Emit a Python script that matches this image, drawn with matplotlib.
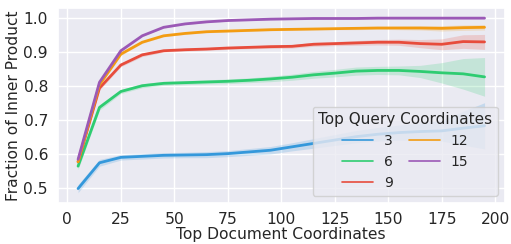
import numpy as np
import matplotlib
matplotlib.use("Agg")
import matplotlib.pyplot as plt
import seaborn as sns

sns.set_theme(style="darkgrid")
plt.rcParams["font.family"] = ["DejaVu Sans"]

# ── Data ─────────────────────────────────────────────────────
doc_coords = [5, 15, 25, 35, 45, 55, 65, 75, 85, 95,
              105, 115, 125, 135, 145, 155, 165, 175, 185, 195]

q3 = [0.497, 0.573, 0.589, 0.592, 0.595, 0.596, 0.597, 0.600, 0.605, 0.610,
      0.620, 0.630, 0.640, 0.650, 0.657, 0.662, 0.665, 0.667, 0.675, 0.682]
q6 = [0.563, 0.736, 0.783, 0.800, 0.807, 0.809, 0.811, 0.813, 0.816, 0.820,
      0.825, 0.832, 0.837, 0.843, 0.845, 0.845, 0.842, 0.838, 0.835, 0.826]
q9 = [0.576, 0.793, 0.861, 0.891, 0.903, 0.906, 0.908, 0.911, 0.913, 0.915,
      0.916, 0.922, 0.924, 0.926, 0.928, 0.928, 0.924, 0.922, 0.930, 0.929]
q12 = [0.576, 0.803, 0.893, 0.928, 0.947, 0.954, 0.959, 0.961, 0.963, 0.965,
       0.966, 0.967, 0.968, 0.969, 0.970, 0.970, 0.970, 0.969, 0.971, 0.972]
q15 = [0.583, 0.810, 0.903, 0.947, 0.972, 0.982, 0.988, 0.992, 0.994, 0.996,
       0.997, 0.998, 0.998, 0.998, 0.999, 0.999, 0.999, 0.999, 0.999, 0.999]

# half-width of the confidence band
ci3 = [0.012, 0.010, 0.008, 0.008, 0.008, 0.008, 0.009, 0.009, 0.010, 0.011,
       0.012, 0.014, 0.016, 0.018, 0.020, 0.022, 0.025, 0.030, 0.050, 0.068]
ci6 = [0.010, 0.008, 0.006, 0.006, 0.006, 0.006, 0.006, 0.007, 0.007, 0.008,
       0.009, 0.010, 0.011, 0.012, 0.012, 0.013, 0.018, 0.030, 0.045, 0.057]
ci9 = [0.008, 0.006, 0.005, 0.005, 0.004, 0.004, 0.004, 0.004, 0.004, 0.005,
       0.005, 0.006, 0.006, 0.007, 0.008, 0.009, 0.012, 0.016, 0.020, 0.022]
ci12 = [0.006, 0.005, 0.004, 0.003, 0.003, 0.003, 0.003, 0.003, 0.003, 0.003,
        0.003, 0.003, 0.003, 0.004, 0.004, 0.005, 0.006, 0.008, 0.008, 0.008]
ci15 = [0.006, 0.004, 0.003, 0.002, 0.002, 0.002, 0.002, 0.002, 0.002, 0.002,
        0.002, 0.002, 0.002, 0.002, 0.002, 0.002, 0.002, 0.002, 0.002, 0.002]

query_labels = ["3", "6", "9", "12", "15"]
series = [q3, q6, q9, q12, q15]
bands = [ci3, ci6, ci9, ci12, ci15]
colors = ["#3498db", "#2ecc71", "#e74c3c", "#f39c12", "#9b59b6"]

# ── Plot ─────────────────────────────────────────────────────
fig, ax = plt.subplots(figsize=(5.11, 2.44), dpi=100)
fig.subplots_adjust(left=0.113, right=0.988, top=0.966, bottom=0.17)

x = np.array(doc_coords)
for lab, y, ci, c in zip(query_labels, series, bands, colors):
    y = np.array(y)
    ci = np.array(ci)
    ax.fill_between(x, y - ci, y + ci, color=c, alpha=0.2, linewidth=0)
    ax.plot(x, y, color=c, linewidth=2, label=lab)

ax.set_xlim(-4.5, 204.5)
ax.set_ylim(0.456, 1.028)
ax.set_xticks([0, 25, 50, 75, 100, 125, 150, 175, 200])
ax.set_yticks([0.5, 0.6, 0.7, 0.8, 0.9, 1.0])
ax.tick_params(labelsize=11.2, pad=1)
ax.set_xlabel("Top Document Coordinates", fontsize=11.2, labelpad=-0.5)
ax.set_ylabel("Fraction of Inner Product", fontsize=11.2, labelpad=2)

leg = ax.legend(title="Top Query Coordinates", ncol=2, loc="lower right",
                fontsize=10, title_fontsize=11, handlelength=2.2,
                columnspacing=1.2, labelspacing=0.5, borderaxespad=0.5)
for h in leg.get_lines():
    h.set_linewidth(1.2)

plt.savefig("out.png", dpi=100)
plt.close()
